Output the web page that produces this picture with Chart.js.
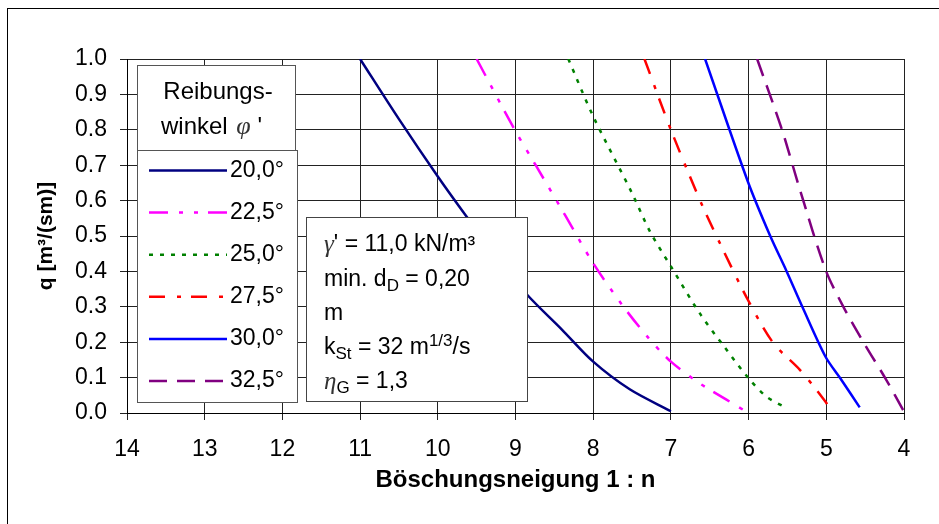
<!DOCTYPE html>
<html>
<head>
<meta charset="utf-8">
<script src="https://cdn.jsdelivr.net/npm/chart.js@4"></script>
<style>
  body { margin: 0; background: #fff; }
  #wrap { width: 939px; height: 524px; position: relative; }
</style>
</head>
<body>
<div id="wrap"><canvas id="c"></canvas></div>
<script>
// Böschungsneigung n (x) and q (y) per Reibungswinkel
const n20 = [11.0, 10.5, 10.0, 9.64, 9.2, 8.85, 8.4, 8.0, 7.53, 7.0];
const q20 = [1.0, 0.83, 0.668, 0.558, 0.43, 0.334, 0.235, 0.145, 0.067, 0.005];
const n22 = [9.5, 9.0, 8.74, 8.36, 8.0, 7.63, 7.3, 7.0, 6.63, 6.28, 6.0];
const q22 = [1.0, 0.796, 0.70, 0.558, 0.423, 0.306, 0.215, 0.145, 0.084, 0.037, 0.0];
const n25 = [8.32, 8.0, 7.5, 7.27, 7.0, 6.63, 6.33, 6.0, 5.77, 5.53];
const q25 = [1.0, 0.838, 0.621, 0.513, 0.414, 0.282, 0.192, 0.098, 0.046, 0.016];
const n27 = [7.34, 7.0, 6.63, 6.39, 6.01, 5.68, 5.34, 5.01, 4.96];
const q27 = [1.0, 0.80, 0.603, 0.489, 0.32, 0.197, 0.122, 0.032, 0.013];
const n30 = [6.56, 6.01, 5.72, 5.51, 5.30, 5.01, 4.82, 4.57];
const q30 = [1.0, 0.654, 0.499, 0.40, 0.296, 0.159, 0.098, 0.016];
const n32 = [5.89, 5.57, 5.34, 5.01, 4.78, 4.50, 4.24, 4.0];
const q32 = [1.0, 0.80, 0.631, 0.405, 0.30, 0.192, 0.098, 0.004];

const angleLabels = ['20,0°', '22,5°', '25,0°', '27,5°', '30,0°', '32,5°'];
const xTicks = [14, 13, 12, 11, 10, 9, 8, 7, 6, 5, 4];
const yTicks = [0, 0.1, 0.2, 0.3, 0.4, 0.5, 0.6, 0.7, 0.8, 0.9, 1.0];

const FONT = "'Liberation Sans', Arial, sans-serif";
const GREEK = "'Liberation Serif', 'DejaVu Serif', serif";

function pts(xs, ys) {
  return xs.map((x, i) => ({ x: x, y: ys[i] }));
}

const styles = [
  { color: '#000080', dash: [] },
  { color: '#FF00FF', dash: [19, 11, 4, 11, 4, 10] },
  { color: '#008000', dash: [4, 7] },
  { color: '#FF0000', dash: [16, 12, 4, 10] },
  { color: '#0000FF', dash: [] },
  { color: '#800080', dash: [18, 10] }
];
const series = [[n20, q20], [n22, q22], [n25, q25], [n27, q27], [n30, q30], [n32, q32]];

const datasets = series.map((s, i) => ({
  label: angleLabels[i],
  data: pts(s[0], s[1]),
  borderColor: styles[i].color,
  borderDash: styles[i].dash,
  borderWidth: 2.5,
  pointRadius: 0,
  tension: 0.3,
  fill: false
}));

// rich text: parts = [text, kind] kind: '', 'g' (greek italic), 'sub', 'sup'
function drawRich(ctx, x, y, parts, size) {
  ctx.textBaseline = 'middle';
  ctx.textAlign = 'left';
  parts.forEach(p => {
    const [t, k] = p;
    let f = size + 'px ' + FONT, dy = 0;
    ctx.fillStyle = '#000';
    if (k === 'g') { f = 'italic ' + (size + 2) + 'px ' + GREEK; ctx.fillStyle = '#333'; }
    if (k === 'sub') { f = Math.round(size * 0.72) + 'px ' + FONT; dy = 6; }
    if (k === 'sup') { f = Math.round(size * 0.72) + 'px ' + FONT; dy = -7; }
    ctx.font = f;
    ctx.fillText(t, x, y + dy);
    x += ctx.measureText(t).width;
  });
}

const boxes = {
  id: 'boxes',
  afterDatasetsDraw(chart) {
    const ctx = chart.ctx;
    ctx.save();
    // legend title box
    ctx.fillStyle = '#fff';
    ctx.strokeStyle = '#555';
    ctx.lineWidth = 1;
    ctx.fillRect(137, 65, 159, 85);
    ctx.strokeRect(137.5, 65.5, 158, 85);
    ctx.fillRect(137, 150, 160, 253);
    ctx.strokeRect(137.5, 150.5, 160, 252);
    ctx.fillStyle = '#000';
    ctx.font = '24px ' + FONT;
    ctx.textAlign = 'center';
    ctx.textBaseline = 'middle';
    ctx.fillText('Reibungs-', 218, 92);
    ctx.textAlign = 'left';
    ctx.fillText('winkel ', 161, 127);
    const w = ctx.measureText('winkel ').width;
    drawRich(ctx, 161 + w + 2, 127, [['φ', 'g'], [" '", '']], 24);

    // legend entries
    chart.data.datasets.forEach((ds, i) => {
      const y = 170.5 + i * 42.1;
      ctx.strokeStyle = ds.borderColor;
      ctx.lineWidth = 2.5;
      ctx.setLineDash(ds.borderDash);
      ctx.beginPath();
      ctx.moveTo(149, y);
      ctx.lineTo(227, y);
      ctx.stroke();
      ctx.setLineDash([]);
      ctx.fillStyle = '#000';
      ctx.font = '23px ' + FONT;
      ctx.textAlign = 'left';
      ctx.textBaseline = 'middle';
      ctx.fillText(ds.label, 230, y);
    });

    // parameter box
    ctx.fillStyle = '#fff';
    ctx.fillRect(306, 217, 221, 185);
    ctx.strokeStyle = '#444';
    ctx.lineWidth = 1;
    ctx.strokeRect(306.5, 217.5, 221, 184);
    const lx = 324;
    drawRich(ctx, lx, 245, [['γ', 'g'], ["' = 11,0 kN/m³", '']], 23);
    drawRich(ctx, lx, 280, [['min. d', ''], ['D', 'sub'], [' = 0,20', '']], 23);
    drawRich(ctx, lx, 314, [['m', '']], 23);
    drawRich(ctx, lx, 348, [['k', ''], ['St', 'sub'], [' = 32 m', ''], ['1/3', 'sup'], ['/s', '']], 23);
    drawRich(ctx, lx, 382, [['η', 'g'], ['G', 'sub'], [' = 1,3', '']], 23);

    // outer chart frame
    ctx.strokeStyle = '#000';
    ctx.lineWidth = 1;
    ctx.strokeRect(7.5, 8.5, 1000, 1000);
    ctx.restore();
  }
};

new Chart(document.getElementById('c'), {
  type: 'line',
  data: { datasets: datasets },
  options: {
    responsive: true,
    maintainAspectRatio: false,
    animation: false,
    layout: { padding: { top: 59, right: 35, left: 0, bottom: 0 } },
    plugins: {
      legend: { display: false },
      tooltip: { enabled: false }
    },
    scales: {
      x: {
        type: 'linear',
        reverse: true,
        min: 4,
        max: 14,
        afterFit: s => { s.height = 111; },
        afterBuildTicks: s => { s.ticks = xTicks.map(v => ({ value: v })); },
        grid: { color: '#222', lineWidth: 1, tickLength: 7, tickColor: '#222' },
        border: { color: '#000' },
        ticks: { color: '#000', font: { family: FONT, size: 23 }, padding: 16, maxRotation: 0 },
        title: {
          display: true,
          text: 'Böschungsneigung 1 : n',
          color: '#000',
          font: { family: FONT, size: 24, weight: 'bold' },
          padding: { top: 0, bottom: 29 }
        }
      },
      y: {
        type: 'linear',
        min: 0,
        max: 1,
        afterFit: s => { s.width = 127; },
        afterBuildTicks: s => { s.ticks = yTicks.map(v => ({ value: v })); },
        grid: { color: '#222', lineWidth: 1, tickLength: 7, tickColor: '#222' },
        border: { color: '#000' },
        ticks: { color: '#000', font: { family: FONT, size: 23 }, padding: 13, callback: v => v.toFixed(1) },
        title: {
          display: true,
          text: 'q [m³/(sm)]',
          color: '#000',
          font: { family: FONT, size: 21, weight: 'bold' },
          padding: { top: 34, bottom: 0 }
        }
      }
    }
  },
  plugins: [boxes]
});
</script>
</body>
</html>
